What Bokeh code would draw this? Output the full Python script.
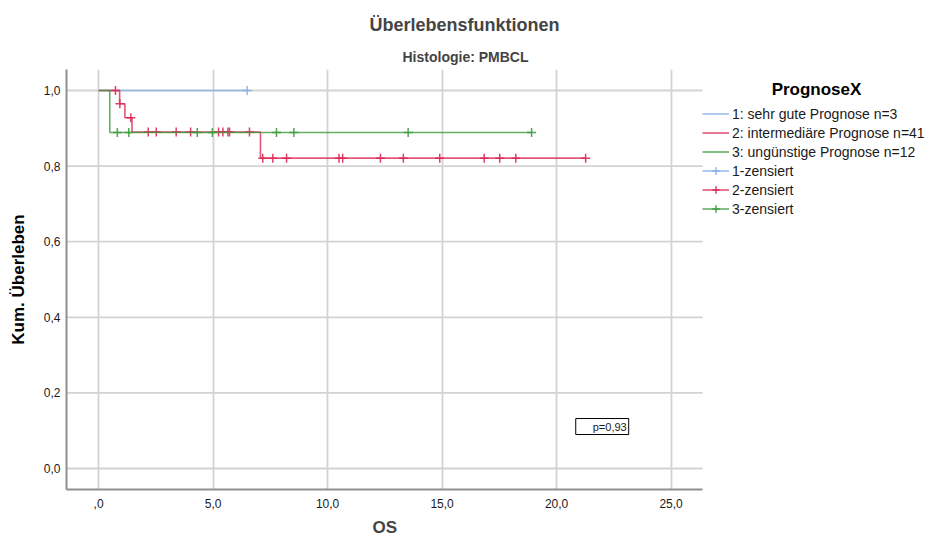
from bokeh.plotting import figure
from bokeh.models import Range1d, FixedTicker, Legend, LegendItem, Label, Title
from bokeh.embed import file_html
from bokeh.resources import INLINE

# Kaplan-Meier estimates (OS) by prognosis group, histology PMBCL
group_labels = ["1: sehr gute Prognose n=3",
                "2: intermediäre Prognose n=41",
                "3: ungünstige Prognose n=12"]
censor_labels = ["1-zensiert", "2-zensiert", "3-zensiert"]
colors = ["#86aee6", "#dc2a57", "#3e9a3e"]

# group 1: no events
g1_event_times = []
g1_event_surv = []
g1_censor_times = [6.49]

# group 2
g2_event_times = [0.92, 1.15, 1.46, 7.07]
g2_event_surv = [0.965, 0.928, 0.890, 0.821]
g2_censor_times = [0.74, 0.93, 1.41, 2.17, 2.52, 3.39, 4.02, 5.24, 5.43, 5.65,
                   5.72, 6.59, 7.17, 7.61, 8.21, 10.50, 10.66, 12.31, 13.31,
                   14.90, 16.84, 17.52, 18.22, 21.27]

# group 3
g3_event_times = [0.49]
g3_event_surv = [0.889]
g3_censor_times = [0.82, 1.32, 4.31, 4.97, 7.77, 8.53, 13.52, 18.91]

x_ticks = [0, 5, 10, 15, 20, 25]
x_tick_labels = [",0", "5,0", "10,0", "15,0", "20,0", "25,0"]
y_ticks = [0.0, 0.2, 0.4, 0.6, 0.8, 1.0]
y_tick_labels = ["0,0", "0,2", "0,4", "0,6", "0,8", "1,0"]

p_value_text = "p=0,93"

FONT = "Liberation Sans"

# visible chart area in data units; the frame continues to the right
# to hold the legend
X_LO, X_HI = -1.4, 26.38
X_FRAME_END = 36.417
Y_LO, Y_HI = -0.0556, 1.0556


def km_step(times, surv, end):
    """Step path of a survival curve starting at (0, 1)."""
    xs, ys, s = [0.0], [1.0], 1.0
    for t, v in zip(times, surv):
        xs += [t, t]
        ys += [s, v]
        s = v
    xs.append(end)
    ys.append(s)
    return xs, ys


def surv_at(times, surv, t):
    s = 1.0
    for et, v in zip(times, surv):
        if et <= t:
            s = v
    return s


groups = [
    (g1_event_times, g1_event_surv, g1_censor_times),
    (g2_event_times, g2_event_surv, g2_censor_times),
    (g3_event_times, g3_event_surv, g3_censor_times),
]

p = figure(width=932, height=543,
           x_range=Range1d(X_LO, X_FRAME_END), y_range=Range1d(Y_LO, Y_HI),
           min_border_left=66, min_border_right=0,
           min_border_top=69, min_border_bottom=54,
           toolbar_location=None, output_backend="svg",
           outline_line_color=None, background_fill_color="white")

# horizontal grid lines, limited to the chart area
p.ygrid.visible = False
p.segment(x0=[X_LO] * len(y_ticks), x1=[X_HI] * len(y_ticks),
          y0=y_ticks, y1=y_ticks, line_color="#d3d3d3", line_width=1.8,
          level="underlay")

line_renderers, cross_renderers = [], []
for (times, surv, ctimes), color in zip(groups, colors):
    end = max(list(times) + list(ctimes))
    xs, ys = km_step(times, surv, end)
    lr = p.line(xs, ys, line_color=color, line_width=1.6, line_alpha=0.8)
    cy = [surv_at(times, surv, t) for t in ctimes]
    cr = p.scatter(ctimes, cy, marker="cross", size=9, line_color=color,
                   line_width=1.5, line_alpha=0.9)
    line_renderers.append(lr)
    cross_renderers.append(cr)

# axes
for ax in (p.xaxis[0], p.yaxis[0]):
    ax.axis_line_color = "#8f8f8f"
    ax.axis_line_width = 2
    ax.major_tick_line_color = None
    ax.minor_tick_line_color = None
    ax.major_tick_out = 0
    ax.major_tick_in = 0
    ax.minor_tick_out = 0
    ax.minor_tick_in = 0
    ax.major_label_text_font = FONT
    ax.major_label_text_font_size = "12px"
    ax.major_label_text_color = "#1a1a1a"
    ax.axis_label_text_font = FONT
    ax.axis_label_text_font_size = "17px"
    ax.axis_label_text_font_style = "bold"
    ax.axis_label_text_color = "black"

p.xaxis.bounds = (X_LO, X_HI)
p.xaxis.ticker = FixedTicker(ticks=x_ticks)
p.xaxis.major_label_overrides = dict(zip(x_ticks, x_tick_labels))
p.xaxis.major_label_standoff = 9

p.yaxis.ticker = FixedTicker(ticks=y_ticks)
p.yaxis.major_label_overrides = dict(zip(y_ticks, y_tick_labels))
p.yaxis.major_label_standoff = 6
p.yaxis.axis_label = "Kum. Überleben"
p.yaxis.axis_label_standoff = 13

p.xgrid.ticker = FixedTicker(ticks=x_ticks)
p.xgrid.grid_line_color = "#d3d3d3"
p.xgrid.grid_line_width = 1.8

# x axis title, centred under the chart area
p.add_layout(Title(text="OS", align="left", offset=306,
                   text_font=FONT, text_font_size="17px",
                   text_font_style="bold", standoff=11), "below")

# titles (first added sits closest to the frame)
p.add_layout(Title(text="Histologie: PMBCL", align="left", offset=336,
                   text_font=FONT, text_font_size="14px",
                   text_font_style="bold", standoff=9), "above")
p.add_layout(Title(text="Überlebensfunktionen", align="left", offset=303,
                   text_font=FONT, text_font_size="18px",
                   text_font_style="bold", standoff=16), "above")

# legend to the right of the chart area
items = [LegendItem(label=lab, renderers=[lr])
         for lab, lr in zip(group_labels, line_renderers)]
items += [LegendItem(label=lab, renderers=[lr, cr])
          for lab, lr, cr in zip(censor_labels, line_renderers, cross_renderers)]
legend = Legend(items=items, location=(636, 271),
                label_text_font=FONT, label_text_font_size="14px",
                label_text_color="#1a1a1a",
                glyph_width=27, glyph_height=19, label_height=19,
                label_standoff=3, spacing=0, padding=0, margin=0,
                border_line_color=None, background_fill_alpha=0)
p.add_layout(legend)

p.add_layout(Label(x=750, y=400.5, x_units="screen", y_units="screen",
                   text="PrognoseX", text_font=FONT, text_font_size="17px",
                   text_font_style="bold", text_align="center",
                   text_baseline="middle", text_color="black"))

# log-rank p value box
p.add_layout(Label(x=23.15, y=0.111, text=p_value_text, text_font=FONT,
                   text_font_size="11px", text_color="#1a1a1a",
                   text_align="right", text_baseline="middle",
                   border_line_color="black", border_line_width=1,
                   background_fill_color="white",
                   padding=dict(left=17, right=2, top=2, bottom=2)))

open("out.html", "w").write(file_html(p, INLINE))
